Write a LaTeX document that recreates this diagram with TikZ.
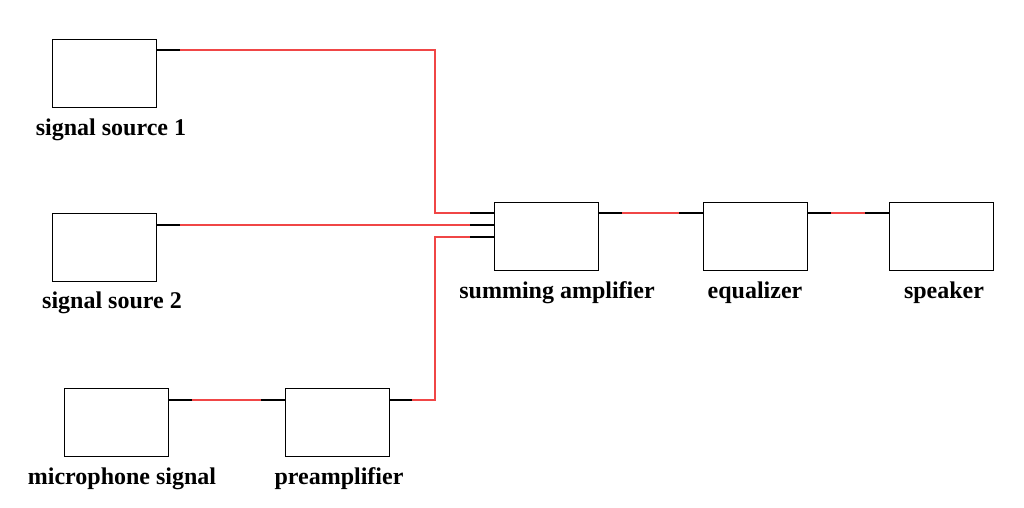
\documentclass[tikz,border=0pt]{standalone}
\usepackage{fontspec}
\setmainfont{Liberation Serif}
\usetikzlibrary{positioning}
\definecolor{wirered}{RGB}{240,70,70}
\tikzset{
  blk/.style = {draw, line width=1pt, minimum width=104pt, minimum height=68pt, inner sep=0pt},
  lbl/.style = {font=\fontsize{24}{28}\selectfont\bfseries},
  stub/.style = {draw=black, line width=1.2pt},
  wire/.style = {draw=wirered, line width=1.2pt}
}
\begin{document}
\begin{tikzpicture}[x=1pt, y=-1pt]
			\useasboundingbox (0,0) rectangle (1024,507);
			% kasten
			\node[blk] (src1) at (104,73) {};
			\node[blk] (src2) at (104,247) {};
			\node[blk] (mic) at (116,422) {};
			\node[blk] (pre) at (337,422) {};
			\node[blk] (sum) at (546,236) {};
			\node[blk] (eq) at (755,236) {};
			\node[blk] (spk) at (941,236) {};
			% namen
			\node[lbl] (src1l) at (111,130) {signal source 1};
			\node[lbl] (src2l) at (112,303) {signal soure 2};
			\node[lbl] (micl) at (122,479) {microphone signal};
			\node[lbl] (prel) at (339,479) {preamplifier};
			\node[lbl] (suml) at (557,293) {summing amplifier};
			\node[lbl] (eql) at (755,293) {equalizer};
			\node[lbl] (spkl) at (944,293) {speaker};
			% aansluitpunten
			\coordinate (s1o) at (180,50);
			\coordinate (s2o) at (180,225);
			\coordinate (mo) at (192,400);
			\coordinate (pi) at (261,400);
			\coordinate (po) at (412,400);
			\coordinate (in1) at (470,213);
			\coordinate (in2) at (470,225);
			\coordinate (in3) at (470,237);
			\coordinate (so) at (622,213);
			\coordinate (ei) at (679,213);
			\coordinate (eo) at (831,213);
			\coordinate (ki) at (865,213);
			% stompjes
			\draw[stub] (src1.east |- s1o) -- (s1o);
			\draw[stub] (src2.east |- s2o) -- (s2o);
			\draw[stub] (mic.east |- mo) -- (mo);
			\draw[stub] (pi) -- (pre.west |- pi);
			\draw[stub] (pre.east |- po) -- (po);
			\draw[stub] (in1) -- (sum.west |- in1);
			\draw[stub] (in2) -- (sum.west |- in2);
			\draw[stub] (in3) -- (sum.west |- in3);
			\draw[stub] (sum.east |- so) -- (so);
			\draw[stub] (ei) -- (eq.west |- ei);
			\draw[stub] (eq.east |- eo) -- (eo);
			\draw[stub] (ki) -- (spk.west |- ki);
			% verbindingen
			\draw[wire] (s1o) -- (435,50) |- (in1);
			\draw[wire] (s2o) -- (in2);
			\draw[wire] (po) -- (435,400) |- (in3);
			\draw[wire] (mo) -- (pi);
			\draw[wire] (so) -- (ei);
			\draw[wire] (eo) -- (ki);
\end{tikzpicture}
\end{document}
